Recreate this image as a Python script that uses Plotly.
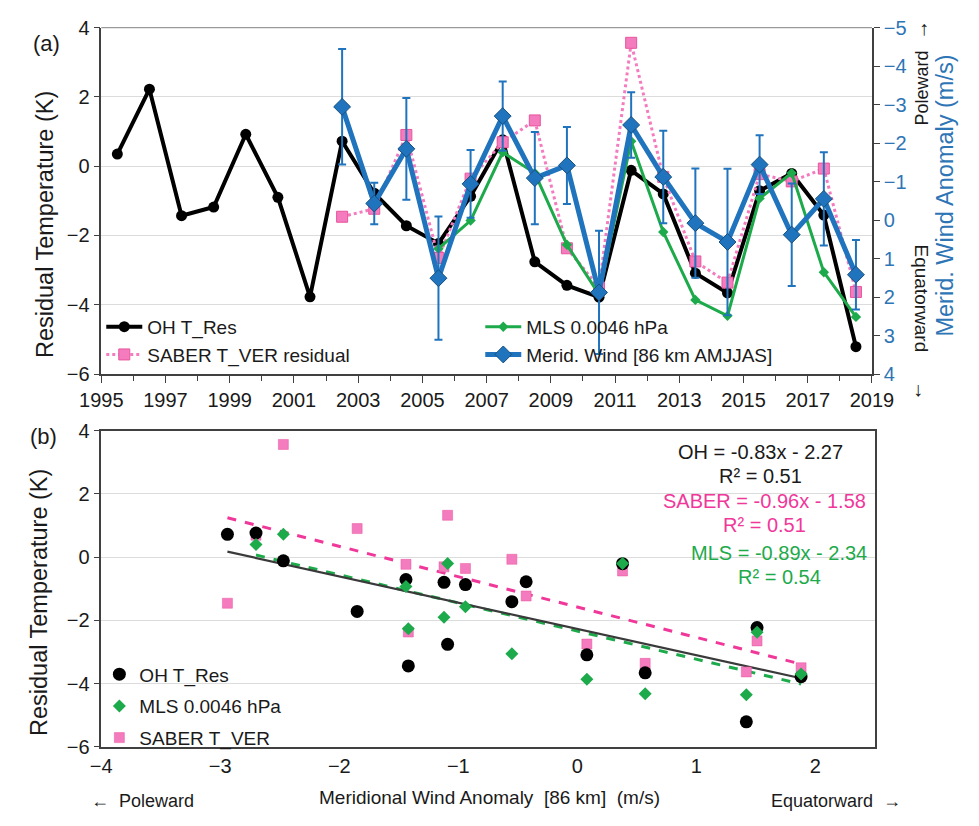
import plotly.graph_objects as go

# ---- data -------------------------------------------------------------
oh_years = list(range(1995, 2019))
oh_res = [0.35, 2.22, -1.43, -1.18, 0.92, -0.90, -3.77, 0.72, -0.78, -1.72,
          -2.23, -0.87, 0.76, -2.76, -3.44, -3.78, -0.12, -0.80, -3.09, -3.66,
          -0.71, -0.21, -1.41, -5.21]

sat_years = list(range(2002, 2019))
saber_res = [-1.46, -1.23, 0.90, -2.65, -0.36, 0.69, 1.32, -2.37, -3.50, 3.56,
             -0.31, -2.75, -3.36, -0.23, -0.44, -0.07, -3.63]

mls_years = list(range(2005, 2019))
mls_res = [-2.38, -1.57, 0.40, -0.20, -2.27, -3.70, 0.72, -1.90, -3.86, -4.32,
           -0.93, -0.20, -3.06, -4.35]

wind_years = list(range(2002, 2019))
wind_86km = [-2.94, -0.43, -1.85, 1.51, -0.94, -2.70, -1.09, -1.42, 1.88, -2.47,
             -1.12, 0.08, 0.57, -1.44, 0.38, -0.55, 1.42]
wind_err = [1.50, 0.54, 1.32, 1.60, 0.88, 0.90, 1.20, 1.00, 1.60, 0.85,
            1.20, 1.42, 1.90, 0.76, 1.33, 1.21, 0.90]

# regression coefficients (slope, intercept, R^2) from the fits
fit_names = ["OH", "SABER", "MLS"]
fit_slope = [-0.83, -0.96, -0.89]
fit_icept = [-2.27, -1.58, -2.34]
fit_r2 = [0.51, 0.51, 0.54]

# ---- styling ----------------------------------------------------------
FONT = "Arial, Liberation Sans, sans-serif"
C_OH = "#000000"
C_SABER = "#F47BBE"
C_SABER_EDGE = "#E8559E"
C_SABER_FIT = "#F0389A"
C_MLS = "#1DAA4B"
C_WIND = "#1F74BD"
C_WIND_EDGE = "#17507F"
C_AXIS_R = "#2E75B6"
GRID = "#DCDCDC"
AXL = "#404040"

W, H = 979, 826


def px(x):
    return x / W


def py(y):
    return 1 - y / H


mid = lambda ys: [y + 0.5 for y in ys]
wind_of = dict(zip(wind_years, wind_86km))

fig = go.Figure()

# ---- panel (a): time series ------------------------------------------
fig.add_trace(go.Scatter(
    x=mid(oh_years), y=oh_res, name="OH T_Res", mode="lines+markers",
    line=dict(color=C_OH, width=4), marker=dict(symbol="circle", size=11, color=C_OH),
    xaxis="x", yaxis="y", legendrank=1, legend="legend"))
fig.add_trace(go.Scatter(
    x=mid(sat_years), y=saber_res, name="SABER T_VER residual", mode="lines+markers",
    line=dict(color=C_SABER, width=3, dash="dot"),
    marker=dict(symbol="square", size=11, color=C_SABER, line=dict(color=C_SABER_EDGE, width=1)),
    xaxis="x", yaxis="y", legendrank=3, legend="legend"))
fig.add_trace(go.Scatter(
    x=mid(mls_years), y=mls_res, name="MLS 0.0046 hPa", mode="lines+markers",
    line=dict(color=C_MLS, width=3), marker=dict(symbol="diamond", size=8, color=C_MLS),
    xaxis="x", yaxis="y", legendrank=2, legend="legend"))
fig.add_trace(go.Scatter(
    x=mid(wind_years), y=wind_86km, name="Merid. Wind [86 km AMJJAS]", mode="lines+markers",
    line=dict(color=C_WIND, width=5),
    marker=dict(symbol="diamond", size=13, color=C_WIND, line=dict(color=C_WIND_EDGE, width=1)),
    error_y=dict(type="data", array=wind_err, symmetric=True, color=C_WIND,
                 thickness=2, width=4),
    xaxis="x", yaxis="y3", legendrank=4, legend="legend"))

# ---- panel (b): scatter against wind ---------------------------------
oh_sub = [(wind_of[y], v) for y, v in zip(oh_years, oh_res) if y in wind_of]
mls_sub = [(wind_of[y], v) for y, v in zip(mls_years, mls_res)]
saber_sub = [(wind_of[y], v) for y, v in zip(sat_years, saber_res)]
subsets = {"OH": oh_sub, "SABER": saber_sub, "MLS": mls_sub}
fit_style = {"OH": dict(color="#3A3A3A", width=2.2),
             "SABER": dict(color=C_SABER_FIT, width=3, dash="dash"),
             "MLS": dict(color=C_MLS, width=3, dash="dash")}

# regression lines across each data set's wind range
for name in ["SABER", "MLS", "OH"]:
    i = fit_names.index(name)
    xs = [p[0] for p in subsets[name]]
    x0, x1 = min(xs), max(xs)
    fig.add_trace(go.Scatter(
        x=[x0, x1], y=[fit_slope[i] * x0 + fit_icept[i], fit_slope[i] * x1 + fit_icept[i]],
        mode="lines", line=fit_style[name], showlegend=False, hoverinfo="skip",
        xaxis="x2", yaxis="y2"))

fig.add_trace(go.Scatter(
    x=[p[0] for p in saber_sub], y=[p[1] for p in saber_sub], name="SABER T_VER",
    mode="markers", marker=dict(symbol="square", size=10, color=C_SABER,
                                line=dict(color=C_SABER_EDGE, width=0.5)),
    xaxis="x2", yaxis="y2", legend="legend2", legendrank=3, legendgroup="s"))
fig.add_trace(go.Scatter(
    x=[p[0] for p in oh_sub], y=[p[1] for p in oh_sub], name="OH T_Res",
    mode="markers", marker=dict(symbol="circle", size=13, color=C_OH),
    xaxis="x2", yaxis="y2", legend="legend2", legendrank=1, legendgroup="o"))
fig.add_trace(go.Scatter(
    x=[p[0] for p in mls_sub], y=[p[1] for p in mls_sub], name="MLS 0.0046 hPa",
    mode="markers", marker=dict(symbol="diamond", size=10, color=C_MLS),
    xaxis="x2", yaxis="y2", legend="legend2", legendrank=2, legendgroup="m"))

tickfont = dict(family=FONT, size=20, color="#1A1A1A")

fig.update_layout(
    width=W, height=H, margin=dict(l=0, r=0, t=0, b=0),
    paper_bgcolor="white", plot_bgcolor="white",
    font=dict(family=FONT, color="#1A1A1A"),
    xaxis=dict(domain=[px(83), px(890)], anchor="y", range=[1995, 2019],
               tick0=1995, dtick=2, ticks="outside", ticklen=7, tickcolor=AXL,
               minor=dict(dtick=1, ticks="outside", ticklen=5, tickcolor=AXL),
               showline=True, linecolor=AXL, linewidth=1.5, mirror=False,
               showgrid=False, zeroline=False, tickfont=tickfont),
    yaxis=dict(domain=[py(373), py(17)], anchor="x", range=[-6, 4], dtick=2,
               ticks="outside", ticklen=6, tickcolor=AXL,
               showline=True, linecolor=AXL, linewidth=1.5,
               showgrid=True, gridcolor=GRID, zeroline=False, tickfont=tickfont),
    yaxis3=dict(overlaying="y", anchor="x", side="right", range=[4, -5], dtick=1,
                ticks="outside", ticklen=6, tickcolor=AXL,
                showline=True, linecolor=AXL, linewidth=1.5,
                showgrid=False, zeroline=False,
                tickfont=dict(family=FONT, size=20, color=C_AXIS_R)),
    xaxis2=dict(domain=[px(83), px(893)], anchor="y2", range=[-4, 2.5], dtick=1,
                ticks="", showline=True, linecolor=AXL, linewidth=1.5, mirror=True,
                showgrid=False, zeroline=False, tickfont=tickfont),
    yaxis2=dict(domain=[py(756), py(431)], anchor="x2", range=[-6, 4], dtick=2,
                ticks="outside", ticklen=6, tickcolor=AXL,
                showline=True, linecolor=AXL, linewidth=1.5, mirror=True,
                showgrid=True, gridcolor=GRID, zeroline=False, tickfont=tickfont),
    legend=dict(orientation="h", x=px(83), y=py(305), xanchor="left", yanchor="top",
                entrywidth=328, entrywidthmode="pixels", bgcolor="rgba(0,0,0,0)",
                font=dict(family=FONT, size=19, color="#1A1A1A"), itemwidth=36,
                traceorder="normal"),
    legend2=dict(orientation="v", x=px(81), y=py(662), xanchor="left", yanchor="top",
                 bgcolor="rgba(0,0,0,0)", font=dict(family=FONT, size=19, color="#1A1A1A"),
                 itemwidth=30, tracegroupgap=4),
)

ann = []


def text(x, y, s, size=18, color="#1A1A1A", angle=0, xanchor="center"):
    ann.append(dict(x=px(x), y=py(y), xref="paper", yref="paper", text=s,
                    showarrow=False, textangle=angle, xanchor=xanchor, yanchor="middle",
                    font=dict(family=FONT, size=size, color=color)))


# panel labels
text(26, 33, "(a)", size=22)
text(22, 437, "(b)", size=22)
# axis titles
text(24, 219, "Residual Temperature (K)", size=23.5, angle=-90)
text(18, 608, "Residual Temperature (K)", size=23.5, angle=-90)
text(966, 190, "Merid. Wind Anomaly (m/s)", size=23.5, color=C_AXIS_R, angle=-90)
text(942, 79, "Poleward", size=18, angle=-90)
text(942, 295, "Equatorward", size=19, angle=90)
text(944, 17, "↑", size=20)
text(938, 388, "↓", size=20)
text(489, 808, "Meridional Wind Anomaly  [86 km]  (m/s)", size=19)
text(70, 812, "←  Poleward", size=18, xanchor="left")
text(922, 812, "Equatorward  →", size=18, xanchor="right")

# regression equations
eq_color = {"OH": "#1A1A1A", "SABER": C_SABER_FIT, "MLS": C_MLS}
eq_pos = {"OH": (773, 453, 478), "SABER": (777, 503, 528), "MLS": (793, 557, 582)}
for i, name in enumerate(fit_names):
    cx, y1, y2 = eq_pos[name]
    sign = "-" if fit_icept[i] < 0 else "+"
    text(cx, y1, f"{name} = {fit_slope[i]:.2f}x {sign} {abs(fit_icept[i]):.2f}",
         size=20, color=eq_color[name])
    text(cx, y2, f"R² = {fit_r2[i]:.2f}", size=20, color=eq_color[name])

fig.update_layout(annotations=ann)

# thin frame line along the top of panel (a)
fig.add_shape(type="line", xref="paper", yref="paper", x0=px(83), x1=px(890),
              y0=py(17), y1=py(17), line=dict(color="#9A9A9A", width=1.2))

fig.write_html("out.html")
